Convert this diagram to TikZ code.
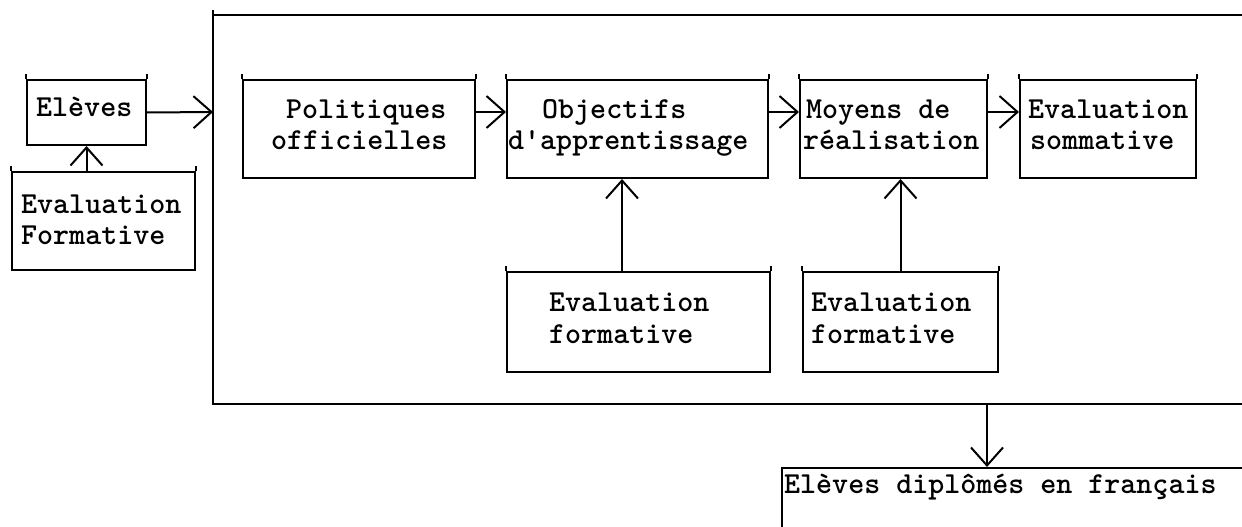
\documentclass[tikz,border=0pt]{standalone}
\usepackage{fontspec}
\usetikzlibrary{arrows.meta}
\tikzset{
  ln/.style={line width=2pt},
  box/.style={draw, ln, inner sep=0pt},
  txt/.style={anchor=base west, inner sep=0pt, font=\ttfamily\bfseries\fontsize{30.5}{34}\selectfont},
  arr/.style={draw, ln, -{Straight Barb[length=18pt,width=32pt]}}
}
\begin{document}
\begin{tikzpicture}[x=1pt,y=-1pt]
\useasboundingbox (0,0) rectangle (1242,527);
% big frame
\draw[ln] (1260,15) -- (213,15);
\draw[ln] (213,10) -- (213,404) -- (1260,404);
\coordinate (bigL) at (213,112);
\coordinate (bigB) at (987,404);
% boxes
\node[box, minimum width=119pt, minimum height=65pt] (eleves) at (86.5,112.5) {};
\node[box, minimum width=183pt, minimum height=98pt] (evalF) at (103.5,221) {};
\node[box, minimum width=232pt, minimum height=98pt] (pol) at (359,129) {};
\node[box, minimum width=261pt, minimum height=98pt] (obj) at (637.5,129) {};
\node[box, minimum width=187pt, minimum height=98pt] (moy) at (893.5,129) {};
\node[box, minimum width=176pt, minimum height=98pt] (som) at (1108,129) {};
\node[box, minimum width=263pt, minimum height=100pt] (ef1) at (638.5,322) {};
\node[box, minimum width=195pt, minimum height=100pt] (ef2) at (900.5,322) {};
\node[box, minimum width=520pt, minimum height=100pt] (dipl) at (1042,518) {};
\foreach \n in {eleves,evalF,pol,obj,moy,som,ef1,ef2}{
  \draw[ln] (\n.north west) -- ++(0,-5);
  \draw[ln] (\n.north east) -- ++(0,-5);
}
% texts
\node[txt] (t1) at (36,116) {Elèves};
\node[txt] (t2a) at (21,213) {Evaluation};
\node[txt] (t2b) at (21,244) {Formative};
\node[txt] (t3a) at (286,118) {Politiques};
\node[txt] (t3b) at (271,149) {officielles};
\node[txt] (t4a) at (542,118) {Objectifs};
\node[txt] (t4b) at (508,149) {d'apprentissage};
\node[txt] (t5a) at (806,118) {Moyens de};
\node[txt] (t5b) at (803,149) {réalisation};
\node[txt] (t6a) at (1028,118) {Evaluation};
\node[txt] (t6b) at (1030,149) {sommative};
\node[txt] (t7a) at (549,311) {Evaluation};
\node[txt] (t7b) at (549,343) {formative};
\node[txt] (t8a) at (811,311) {Evaluation};
\node[txt] (t8b) at (811,343) {formative};
\node[txt] (t9) at (784,493) {Elèves diplômés en français};
% connectors
\draw[arr] (eleves.east) -- (bigL);
\draw[arr] (evalF.north -| eleves) -- (eleves.south);
\draw[arr] (pol.east |- bigL) -- (obj.west |- bigL);
\draw[arr] (obj.east |- bigL) -- (moy.west |- bigL);
\draw[arr] (moy.east |- bigL) -- (som.west |- bigL);
\draw[arr] ([xshift=-16.5pt]ef1.north) -- ([xshift=-16.5pt]ef1.north |- obj.south);
\draw[arr] (ef2.north) -- (ef2.north |- moy.south);
\draw[arr] (bigB) -- (bigB |- dipl.north);
\end{tikzpicture}
\end{document}
